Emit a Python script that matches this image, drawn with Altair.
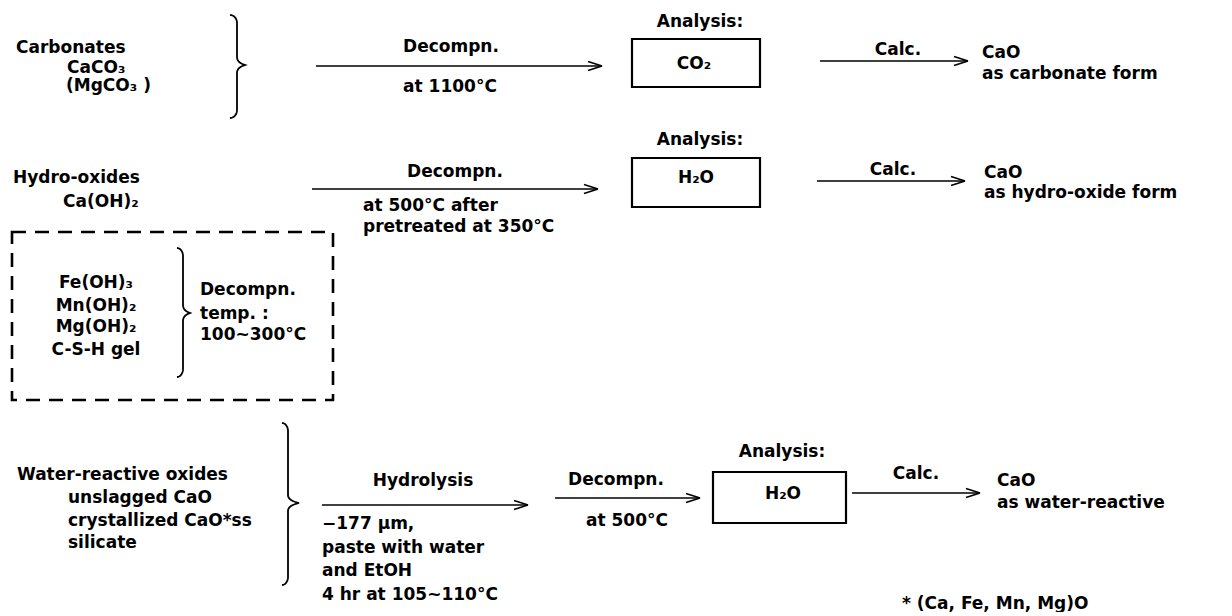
import altair as alt
import pandas as pd
import numpy as np

# ---------------- text labels ----------------
left_labels = ["Carbonates", "CaCO₃", "(MgCO₃ )", "CaO", "as carbonate form",
               "Hydro-oxides", "Ca(OH)₂", "at 500°C after", "pretreated at 350°C",
               "CaO", "as hydro-oxide form",
               "Decompn.", "temp. :", "100~300°C",
               "Water-reactive oxides", "unslagged CaO", "crystallized CaO*ss", "silicate",
               "−177 µm,", "paste with water", "and EtOH", "4 hr at 105~110°C",
               "CaO", "as water-reactive", "* (Ca, Fe, Mn, Mg)O"]
left_x = [16, 67, 66, 982, 982, 13, 63, 363, 363, 984, 984, 200, 200, 200,
          17, 68, 68, 68, 322, 322, 322, 322, 997, 997, 902]
left_y = [48, 68, 86, 53, 74, 178, 202, 206, 227, 173, 193, 290, 314, 335,
          475, 498, 521, 543, 524, 548, 571, 595, 481, 503, 604]

center_labels = ["Decompn.", "at 1100°C", "Analysis:", "CO₂", "Calc.",
                 "Decompn.", "Analysis:", "H₂O", "Calc.",
                 "Fe(OH)₃", "Mn(OH)₂", "Mg(OH)₂", "C-S-H gel",
                 "Hydrolysis", "Decompn.", "at 500°C", "Analysis:", "H₂O", "Calc."]
center_x = [451, 450, 700, 694, 898, 455, 700, 696, 893, 96, 96, 96, 96,
            423, 616, 627, 782, 783, 916]
center_y = [47, 87, 22, 64, 50, 172, 140, 178, 170, 283, 306, 327, 350,
            481, 480, 521, 452, 494, 474]

# ---------------- arrows ----------------
arrow_x1 = [316, 820, 312, 817, 322, 555, 852]
arrow_x2 = [602, 968, 598, 965, 528, 700, 980]
arrow_y = [66, 61, 189, 181, 505, 498, 493]

# ---------------- boxes ----------------
box_x1 = [632, 632, 713]
box_x2 = [760, 760, 846]
box_y1 = [39, 158, 472]
box_y2 = [87, 207, 523]

dash_x1 = [12]
dash_x2 = [333]
dash_y1 = [232]
dash_y2 = [400]

# ---------------- braces ----------------
brace_xv = [237, 183, 288]
brace_hook = [230, 177, 282]
brace_tip = [245, 190, 299]
brace_top = [15, 248, 423]
brace_mid = [65, 313, 503]
brace_bot = [118, 377, 585]

# ---------------- build tables ----------------
left_df = pd.DataFrame({"t": left_labels, "x": left_x, "y": left_y})
center_df = pd.DataFrame({"t": center_labels, "x": center_x, "y": center_y})

HEAD_L, HEAD_W = 14, 4.5
segs = []
for a, b, y in zip(arrow_x1, arrow_x2, arrow_y):
    segs.append((a, y, b, y))
    segs.append((b, y, b - HEAD_L, y - HEAD_W))
    segs.append((b, y, b - HEAD_L, y + HEAD_W))
seg_df = pd.DataFrame(segs, columns=["x", "y", "x2", "y2"])

box_df = pd.DataFrame({"x": box_x1, "x2": box_x2, "y": box_y1, "y2": box_y2})
dash_df = pd.DataFrame({"x": dash_x1, "x2": dash_x2, "y": dash_y1, "y2": dash_y2})


def brace_points(xv, xh, xt, yt, ym, yb, r=8):
    t = np.linspace(0, np.pi / 2, 10)
    s = np.linspace(0, 1, 10)
    pts = []
    for a in t:
        pts.append((xh + (xv - xh) * np.sin(a), yt + r * (1 - np.cos(a))))
    p0, p1, p2 = np.array([xv, ym - r]), np.array([xv, ym - r * 0.3]), np.array([xt, ym])
    for u in s:
        p = (1 - u) ** 2 * p0 + 2 * (1 - u) * u * p1 + u ** 2 * p2
        pts.append(tuple(p))
    q0, q1, q2 = np.array([xt, ym]), np.array([xv, ym + r * 0.3]), np.array([xv, ym + r])
    for u in s[1:]:
        p = (1 - u) ** 2 * q0 + 2 * (1 - u) * u * q1 + u ** 2 * q2
        pts.append(tuple(p))
    for a in t:
        pts.append((xv - (xv - xh) * (1 - np.cos(a)), yb - r + r * np.sin(a)))
    return pts


rows = []
for i, (xv, xh, xt, yt, ym, yb) in enumerate(zip(brace_xv, brace_hook, brace_tip,
                                                 brace_top, brace_mid, brace_bot)):
    for k, (px, py) in enumerate(brace_points(xv, xh, xt, yt, ym, yb)):
        rows.append({"b": i, "o": k, "x": px, "y": py})
brace_df = pd.DataFrame(rows)

# ---------------- chart ----------------
xs = alt.Scale(domain=[8, 1224], nice=False, zero=False)
ys = alt.Scale(domain=[8, 608], nice=False, zero=False, reverse=True)
X = alt.X("x:Q", scale=xs, axis=None)
Y = alt.Y("y:Q", scale=ys, axis=None)

FONT = "DejaVu Sans"
FS = 17

left_text = alt.Chart(left_df).mark_text(
    font=FONT, fontSize=FS, fontWeight="bold", align="left", baseline="middle", color="black"
).encode(x=X, y=Y, text="t:N")

center_text = alt.Chart(center_df).mark_text(
    font=FONT, fontSize=FS, fontWeight="bold", align="center", baseline="middle", color="black"
).encode(x=X, y=Y, text="t:N")

arrows = alt.Chart(seg_df).mark_rule(color="black", strokeWidth=1.6).encode(
    x=X, y=Y, x2="x2:Q", y2="y2:Q")

boxes = alt.Chart(box_df).mark_rect(
    fillOpacity=0, stroke="black", strokeWidth=2.2).encode(x=X, y=Y, x2="x2:Q", y2="y2:Q")

dash = alt.Chart(dash_df).mark_rect(
    fillOpacity=0, stroke="black", strokeWidth=2.6, strokeDash=[14, 9]
).encode(x=X, y=Y, x2="x2:Q", y2="y2:Q")

braces = alt.Chart(brace_df).mark_line(color="black", strokeWidth=1.8).encode(
    x=X, y=Y, order="o:Q", detail="b:N")

chart = alt.layer(dash, boxes, arrows, braces, left_text, center_text).properties(
    width=1216, height=600, padding=0, background="white"
).configure_view(strokeWidth=0)

chart.save("out.html", embed_options={"renderer": "svg", "actions": False})
